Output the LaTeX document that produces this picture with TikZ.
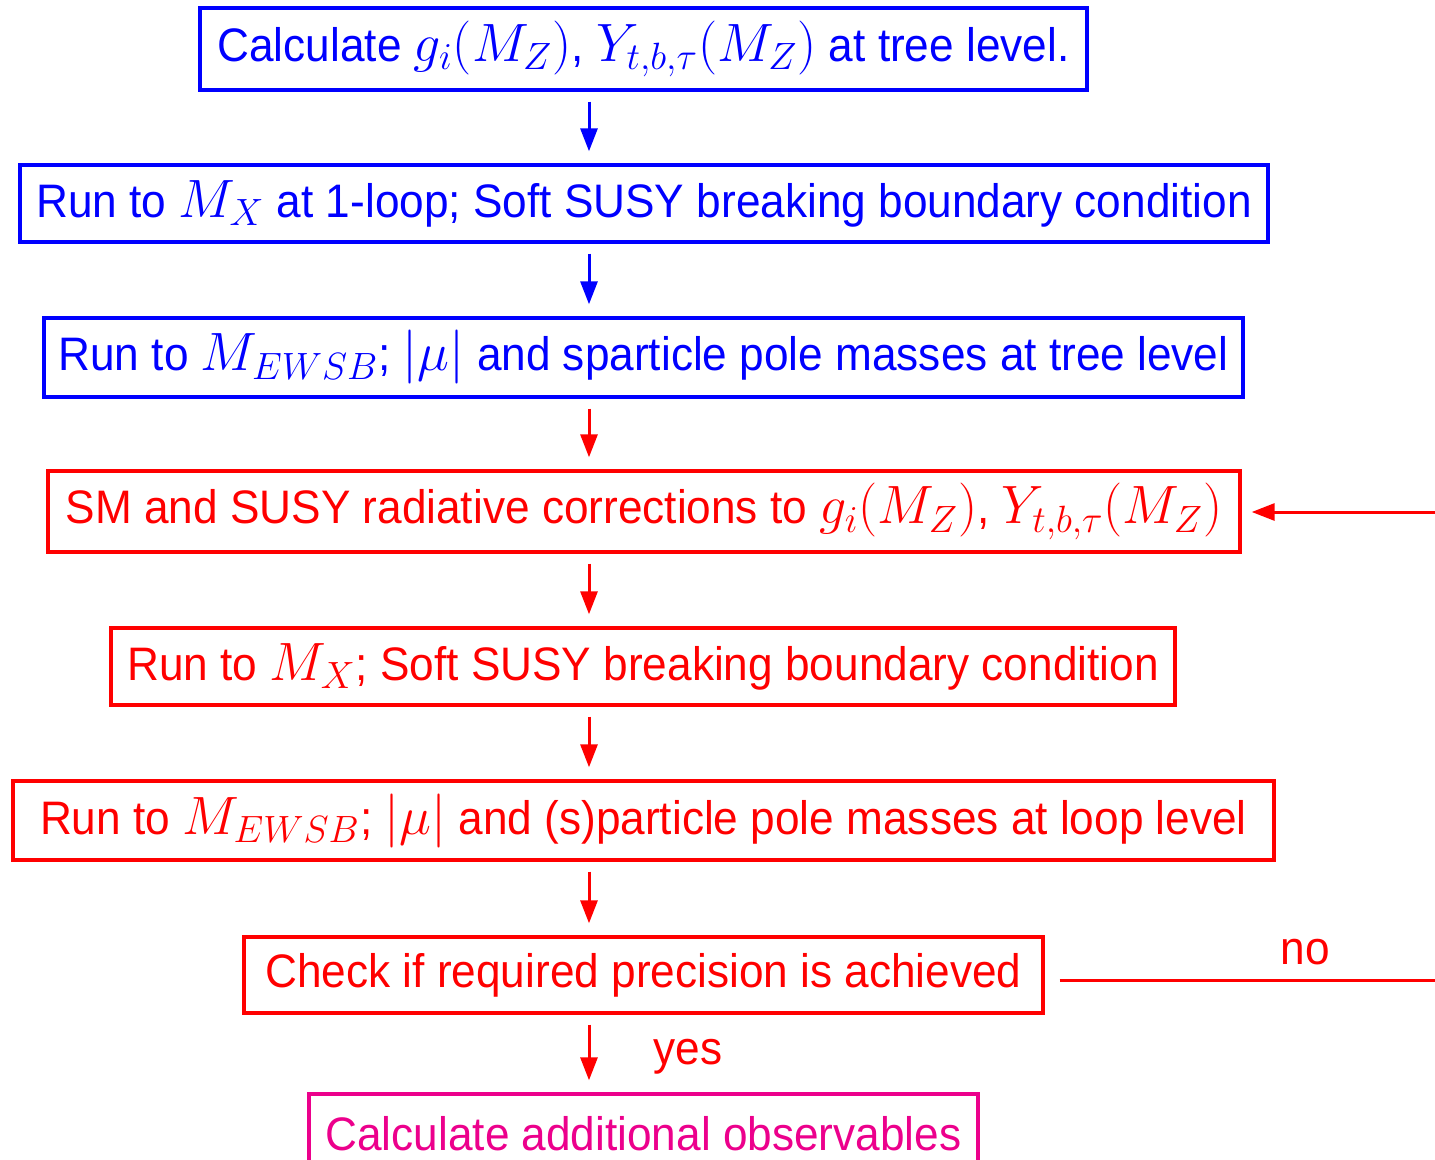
\documentclass[tikz,border=0pt]{standalone}
\usepackage{fix-cm}
\usepackage[no-math]{fontspec}
\setmainfont[FakeStretch=0.94]{Liberation Sans}
\DeclareMathSizes{23.5}{27}{19}{14}
\usetikzlibrary{arrows.meta}
\definecolor{boxmag}{RGB}{236,0,140}
\tikzset{
  stage/.style={draw=#1, text=#1, line width=1.7pt, rectangle, inner sep=0pt},
  flow/.style={draw=#1, line width=1.5pt, -{Triangle[length=11.5pt,width=8.5pt]}, shorten <=5pt, shorten >=6pt},
}
\begin{document}
\begin{tikzpicture}[x=0.5pt, y=-0.5pt, font=\fontsize{23.5}{28}\selectfont]
    \useasboundingbox (0,0) rectangle (1435,1160);
    %   first pass, at tree level
    \node[stage=blue, minimum width=443.5pt, minimum height=41pt] (tree) at (643.5,49) {Calculate $g_i(M_Z)$, $Y_{t,b,\tau}(M_Z)$ at tree level.};
    \node[stage=blue, minimum width=624pt, minimum height=38.5pt] (upone) at (644,203.5) {Run to $M_X$ at 1-loop; Soft SUSY breaking boundary condition};
    \node[stage=blue, minimum width=599.5pt, minimum height=39.5pt] (downone) at (643.5,357.5) {Run to $M_{EWSB}$; $|\mu|$ and sparticle pole masses at tree level};
    %   iteration
    \node[stage=red, minimum width=596pt, minimum height=40.5pt] (corr) at (644,511.5) {SM and SUSY radiative corrections to $g_i(M_Z)$, $Y_{t,b,\tau}(M_Z)$};
    \node[stage=red, minimum width=532pt, minimum height=38.5pt] (uptwo) at (643,666.5) {Run to $M_X$; Soft SUSY breaking boundary condition};
    \node[stage=red, minimum width=630.5pt, minimum height=39.5pt] (downtwo) at (643.5,820.5) {Run to $M_{EWSB}$; $|\mu|$ and (s)particle pole masses at loop level};
    \node[stage=red, minimum width=399.5pt, minimum height=38pt] (check) at (643.5,975) {Check if required precision is achieved};
    \node[stage=boxmag, minimum width=334.5pt, minimum height=40pt] (obs) at (643.5,1134) {Calculate additional observables};
    %   arrows
    \coordinate (ax) at (589,0);
    \draw[flow=blue] (tree.south -| ax) -- (upone.north -| ax);
    \draw[flow=blue] (upone.south -| ax) -- (downone.north -| ax);
    \draw[flow=red] (downone.south -| ax) -- (corr.north -| ax);
    \draw[flow=red] (corr.south -| ax) -- (uptwo.north -| ax);
    \draw[flow=red] (uptwo.south -| ax) -- (downtwo.north -| ax);
    \draw[flow=red] (downtwo.south -| ax) -- (check.north -| ax);
    \draw[flow=red] (check.south -| ax) -- (obs.north -| ax);
    \node[text=red] (yes) at (688,1057) {yes};
    %   loop back
    \coordinate (noend) at (1435,980);
    \coordinate (backin) at (1435,512);
    \draw[red, line width=1.5pt, shorten <=7.5pt] (check.east |- noend) -- (noend);
    \node[text=red] (no) at (1305,952) {no};
    \draw[flow=red, shorten <=0pt, shorten >=5pt] (backin) -- (corr.east |- backin);
\end{tikzpicture}
\end{document}
